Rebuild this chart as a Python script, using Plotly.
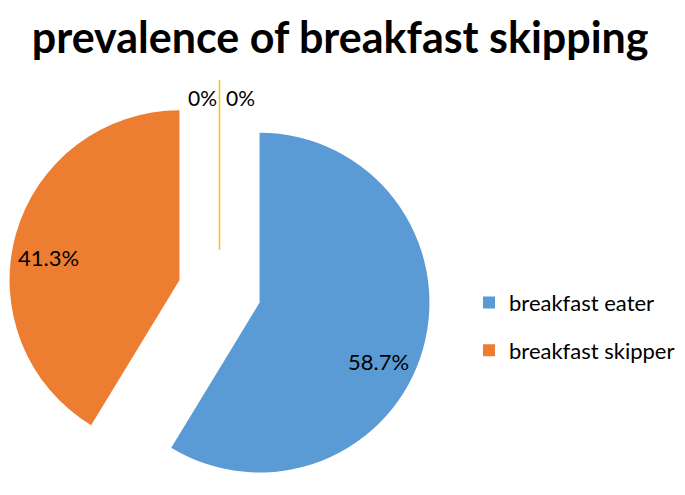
import numpy as np
import plotly.graph_objects as go

# Data
labels = ["breakfast eater", "breakfast skipper"]
values = [58.7, 41.3]
zero_labels = ["other 1", "other 2"]
zero_values = [0, 0]

colors = ["#5B9BD5", "#ED7D31"]
zero_colors = ["#A5A5A5", "#FFC000"]
label_shift = [(-12, 22), (0, 14)]  # px nudge of the % labels, like Excel "best fit"

W, H = 685, 495
pull = 0.245
dom_x = [0.0, 0.6175]
dom_y = [0.0, 0.855]
FONT = "Lato"

fig = go.Figure()
fig.add_trace(go.Pie(
    labels=labels, values=values, sort=False, direction="clockwise", rotation=0,
    pull=[pull] * len(values), showlegend=False,
    marker=dict(colors=colors, line=dict(width=0)),
    textinfo="none", domain=dict(x=dom_x, y=dom_y), hoverinfo="label+percent",
))

# legend entries (separate groups so the gap between rows can be set)
for lab, c in zip(labels, colors):
    fig.add_trace(go.Scatter(x=[None], y=[None], mode="markers", name=lab, legendgroup=lab,
                             marker=dict(symbol="square", size=12, color=c)))

# pie geometry (pixels, from top-left of the figure) to place Excel-style labels
cx = (dom_x[0] + dom_x[1]) / 2 * W
cy = H - (dom_y[0] + dom_y[1]) / 2 * H
r = min((dom_x[1] - dom_x[0]) * W, (dom_y[1] - dom_y[0]) * H) / 2 / (1 + pull)

def px2paper(x, y):
    return x / W, 1 - y / H

total = sum(values)
start = 0.0
for i, v in enumerate(values):
    frac = v / total
    mid = np.radians((start + frac / 2) * 360)
    ax = cx + pull * r * np.sin(mid)
    ay = cy - pull * r * np.cos(mid)
    dx, dy = label_shift[i]
    tx, ty = px2paper(ax + 0.8 * r * np.sin(mid) + dx, ay - 0.8 * r * np.cos(mid) + dy)
    fig.add_annotation(x=tx, y=ty, xref="paper", yref="paper", text=f"{frac:.1%}",
                       xanchor="center", yanchor="middle", showarrow=False,
                       font=dict(size=22, color="black", family=FONT))
    start += frac

# zero-value slices: drawn as a thin line at 12 o'clock, pulled out like the others
y_start = cy - pull * r
y_end = y_start - r
x0, y0 = px2paper(cx, y_start)
x1, y1 = px2paper(cx, y_end)
fig.add_shape(type="line", xref="paper", yref="paper", x0=x0, x1=x1, y0=y0, y1=y1,
              line=dict(color=zero_colors[-1], width=1.5))
for k, (lab, v) in enumerate(zip(zero_labels, zero_values)):
    tx, ty = px2paper(cx + (-17 if k == 0 else 21), y_end + 18)
    fig.add_annotation(x=tx, y=ty, xref="paper", yref="paper", text=f"{v}%",
                       xanchor="center", yanchor="middle", showarrow=False,
                       font=dict(size=21, color="black", family=FONT))

fig.update_layout(
    width=W, height=H, margin=dict(l=0, r=0, t=0, b=0),
    paper_bgcolor="white", plot_bgcolor="white",
    xaxis=dict(visible=False), yaxis=dict(visible=False),
    title=dict(text="<b>prevalence of breakfast skipping</b>", x=0.485, xanchor="center",
               y=1 - 30 / H, yanchor="middle", yref="container",
               font=dict(size=43, color="black", family=FONT)),
    legend=dict(x=0.673, y=0.356, xanchor="left", yanchor="middle", tracegroupgap=16,
                font=dict(size=22, color="black", family=FONT)),
)

fig.write_html("out.html")
